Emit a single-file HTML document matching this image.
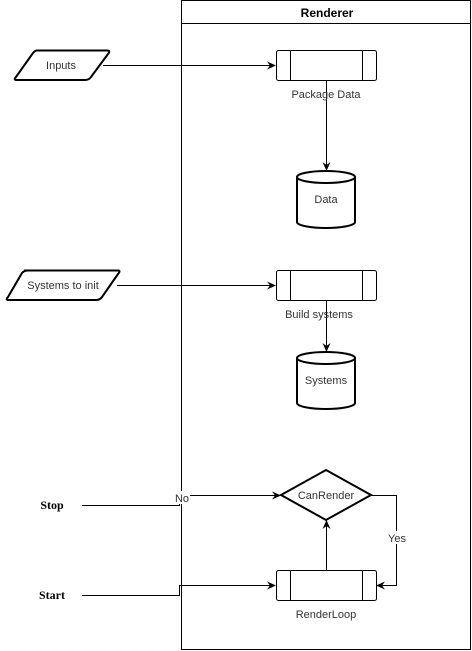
<!DOCTYPE html>
<html><head><style>body{margin:0;background:#fff}svg{display:block}text{font-family:"Liberation Sans",sans-serif;font-size:11px;fill:#333}</style></head><body>
<svg width="472" height="651" viewBox="0 0 472 651">
<defs><marker id="a" markerWidth="10" markerHeight="10" refX="8" refY="5" orient="auto" markerUnits="userSpaceOnUse"><path d="M0,1 L9,5 L0,9 L3,5 Z" fill="#000"/></marker></defs>
<g fill="none" stroke="#000" stroke-width="1">
<rect x="181.5" y="0.5" width="289" height="649"/>
<line x1="181" y1="23.5" x2="471" y2="23.5"/>
<rect x="276.5" y="50.5" width="100" height="30" rx="2"/>
<line x1="290.5" y1="50" x2="290.5" y2="81"/><line x1="362.5" y1="50" x2="362.5" y2="81"/>
<rect x="276.5" y="270.5" width="100" height="30" rx="2"/>
<line x1="290.5" y1="270" x2="290.5" y2="301"/><line x1="362.5" y1="270" x2="362.5" y2="301"/>
<rect x="276.5" y="570.5" width="100" height="30" rx="2"/>
<line x1="290.5" y1="570" x2="290.5" y2="601"/><line x1="362.5" y1="570" x2="362.5" y2="601"/>
<path d="M37,50.5 H107 Q111,50.5 108,54 L91,77 Q89,80 85,80 H17 Q13,80 16,77 L33,53 Q35,50.5 37,50.5 Z" stroke-width="2"/>
<path d="M24,270.5 H118 Q121,270.5 118,274 L102,297 Q100,300 96,300 H9 Q5,300 8,297 L22,273 Q24,270.5 28,270.5 Z" stroke-width="2"/>
<path d="M297,177 A29,6 0 0 1 355,177 V222 A29,6 0 0 1 297,222 Z M297,177 A29,6 0 0 0 355,177" stroke-width="2"/>
<path d="M297,358 A29,6 0 0 1 355,358 V403 A29,6 0 0 1 297,403 Z M297,358 A29,6 0 0 0 355,358" stroke-width="2"/>
<path d="M326,470 L371,495 L326,520 L281,495 Z" stroke-width="2"/>
<line x1="103" y1="65.5" x2="275" y2="65.5" marker-end="url(#a)"/>
<line x1="117" y1="285.5" x2="275" y2="285.5" marker-end="url(#a)"/>
<line x1="326.5" y1="80" x2="326.5" y2="170" marker-end="url(#a)"/>
<line x1="326.5" y1="300" x2="326.5" y2="351" marker-end="url(#a)"/>
<path d="M82,505.5 H179.5 V495.5 H280" marker-end="url(#a)"/>
<path d="M82,595.5 H179.5 V585.5 H275" marker-end="url(#a)"/>
<line x1="326.5" y1="570" x2="326.5" y2="521" marker-end="url(#a)"/>
<path d="M371,495.5 H396.5 V585.5 H377" marker-end="url(#a)"/>
</g>
<rect x="174" y="491" width="16" height="13" fill="#fff"/>
<rect x="385" y="531" width="24" height="13" fill="#fff"/>
<text x="327" y="17" text-anchor="middle" font-weight="bold" style="font-size:12px;fill:#000">Renderer</text>
<text x="61" y="69" text-anchor="middle">Inputs</text>
<text x="326" y="98" text-anchor="middle">Package Data</text>
<text x="326" y="203" text-anchor="middle">Data</text>
<text x="63" y="289" text-anchor="middle">Systems to init</text>
<text x="319" y="318" text-anchor="middle">Build systems</text>
<text x="326" y="384" text-anchor="middle">Systems</text>
<text x="326" y="499" text-anchor="middle">CanRender</text>
<text x="182" y="502" text-anchor="middle">No</text>
<text x="397" y="542" text-anchor="middle">Yes</text>
<text x="326" y="618" text-anchor="middle">RenderLoop</text>
<text x="52" y="509" text-anchor="middle" font-weight="bold" style="font-family:'Liberation Serif',serif;font-size:12px;fill:#000">Stop</text>
<text x="52" y="599" text-anchor="middle" font-weight="bold" style="font-family:'Liberation Serif',serif;font-size:12px;fill:#000">Start</text>
</svg>
</body></html>
